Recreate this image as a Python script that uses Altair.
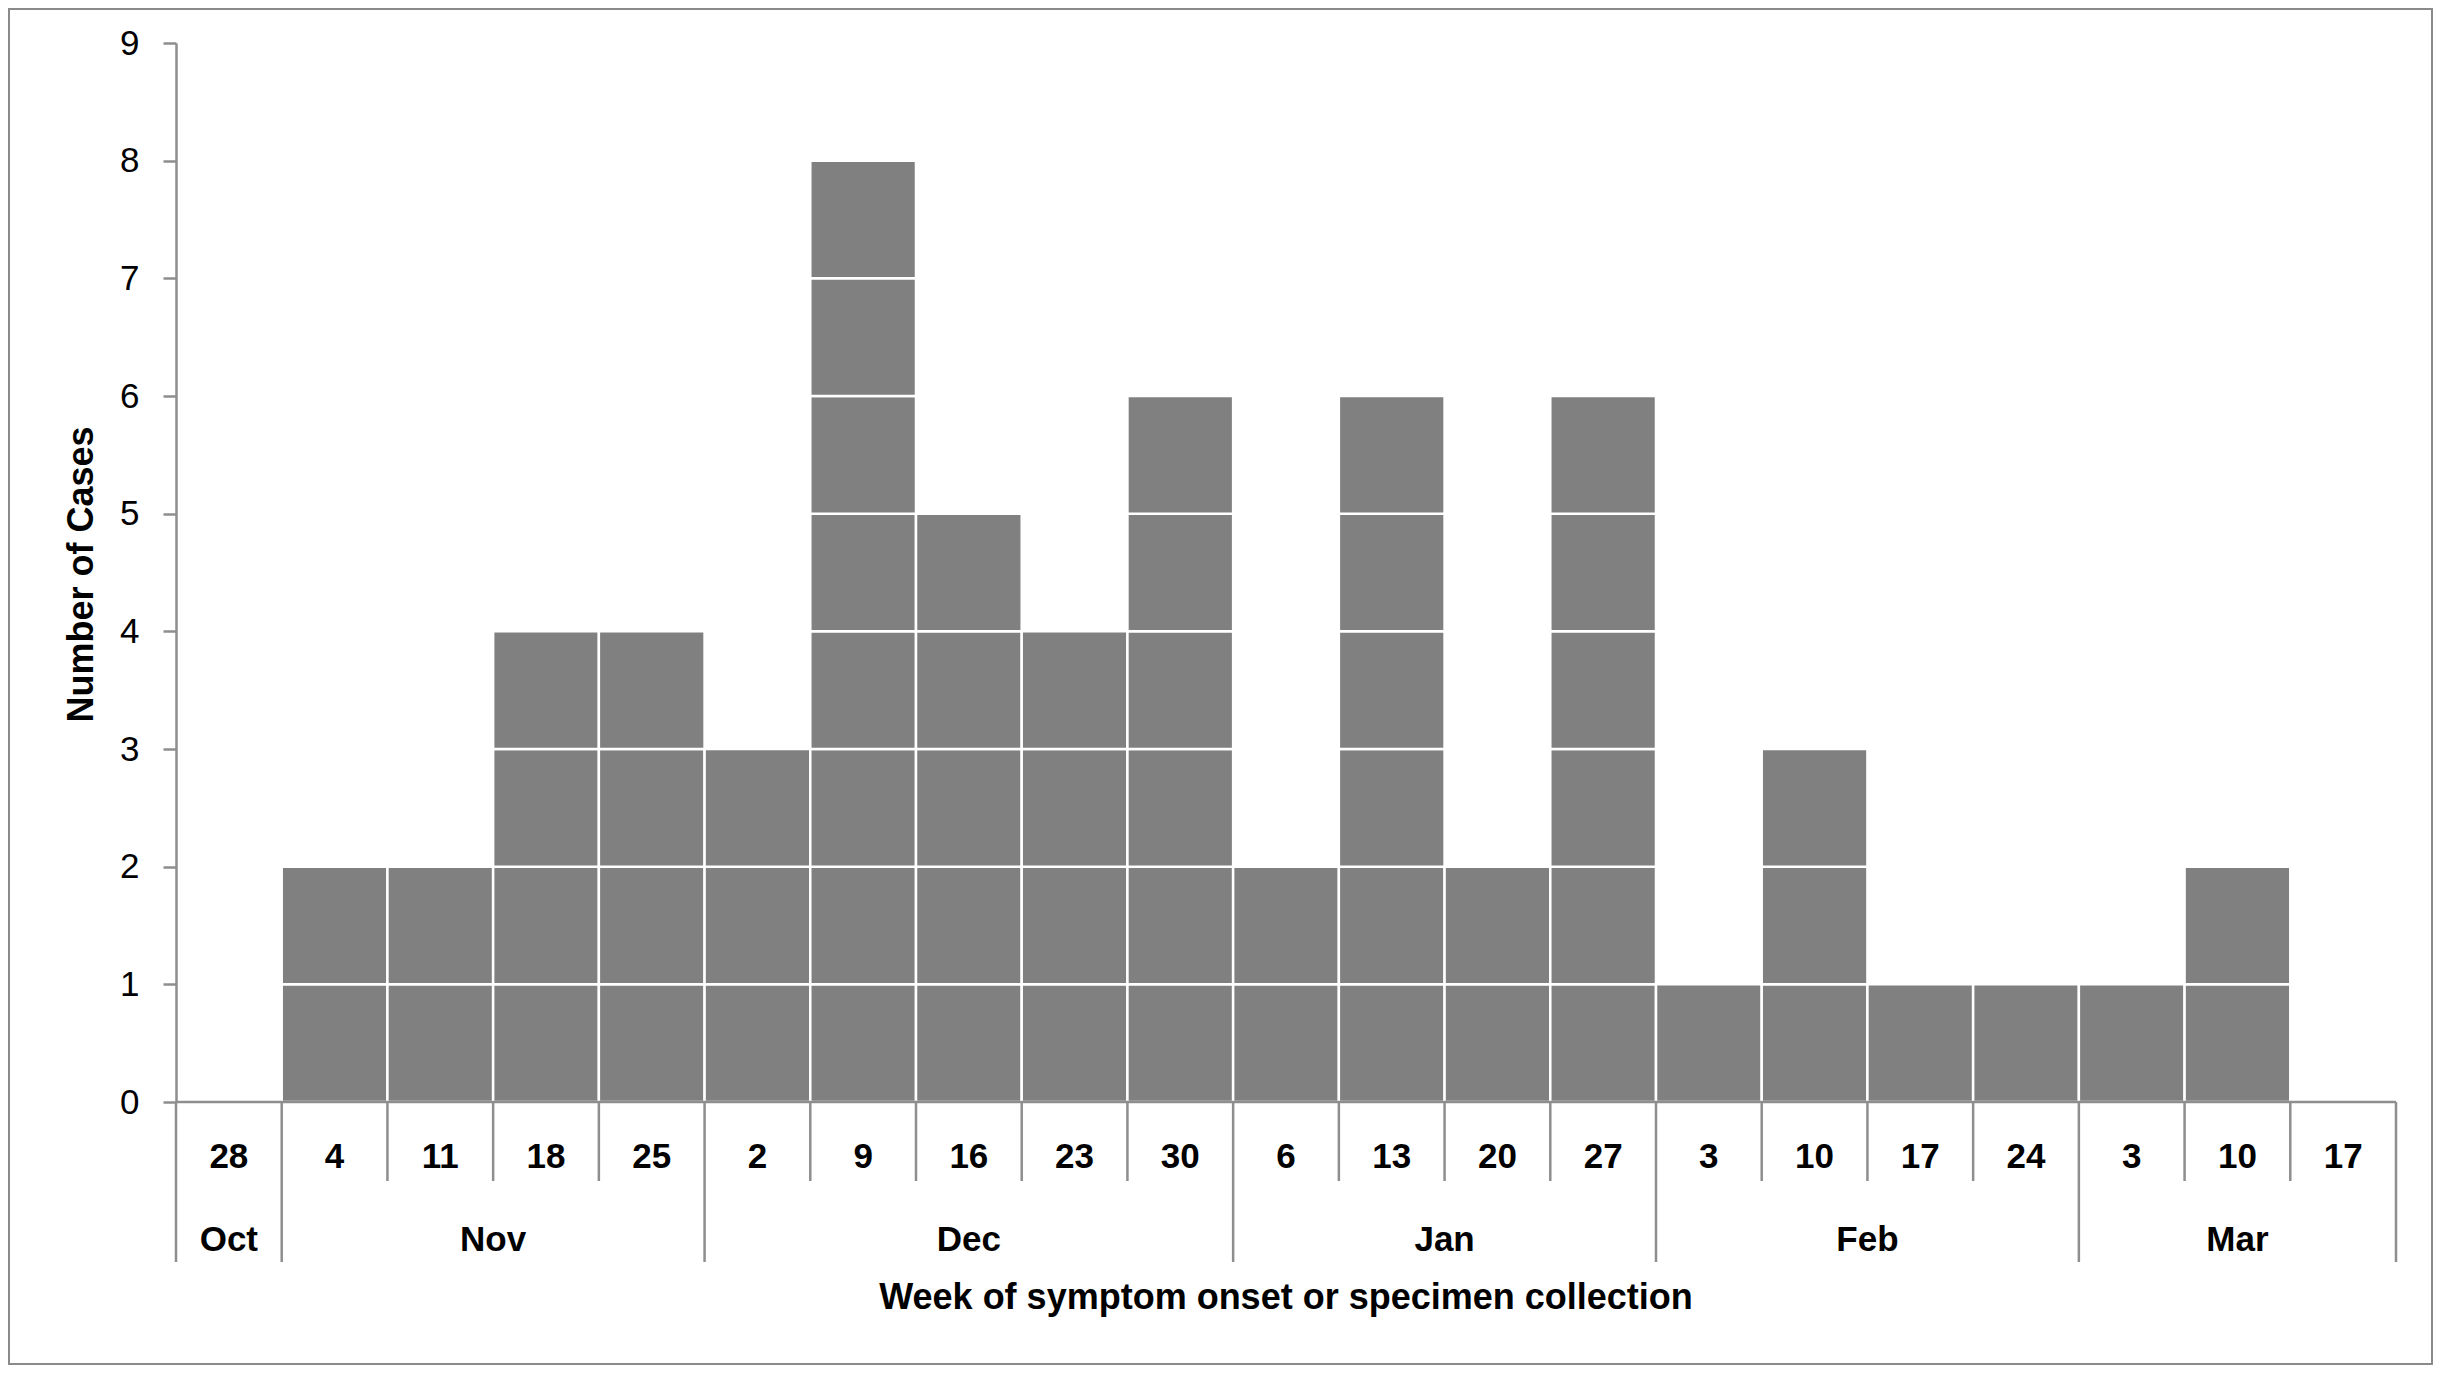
import altair as alt
import pandas as pd

# ---- data ----
week_days = ["28", "4", "11", "18", "25", "2", "9", "16", "23", "30",
             "6", "13", "20", "27", "3", "10", "17", "24", "3", "10", "17"]
week_months = ["Oct", "Nov", "Nov", "Nov", "Nov", "Dec", "Dec", "Dec", "Dec", "Dec",
               "Jan", "Jan", "Jan", "Jan", "Feb", "Feb", "Feb", "Feb", "Mar", "Mar", "Mar"]
case_counts = [0, 2, 2, 4, 4, 3, 8, 5, 4, 6, 2, 6, 2, 6, 1, 3, 1, 1, 1, 2, 0]
y_ticks = list(range(0, 10))

x_title = "Week of symptom onset or specimen collection"
y_title = "Number of Cases"

# ---- layout constants (pixels) ----
W, H = 2220, 1059
FONT = "Liberation Sans, Arial, sans-serif"
GREY = "#8e8e8e"
n_weeks = len(week_days)

# ---- tables built from the arrays ----
cells = pd.DataFrame(
    [{"x0": i, "x1": i + 1, "y0": k, "y1": k + 1}
     for i, c in enumerate(case_counts) for k in range(c)]
)
week_df = pd.DataFrame({"xc": [i + 0.5 for i in range(n_weeks)], "label": week_days})
week_bounds = pd.DataFrame({"xb": list(range(n_weeks + 1))})

month_rows = []
start = 0
for i in range(1, n_weeks + 1):
    if i == n_weeks or week_months[i] != week_months[start]:
        month_rows.append({"name": week_months[start], "start": start, "end": i,
                           "mid": (start + i) / 2})
        start = i
month_df = pd.DataFrame(month_rows)
month_bounds = pd.DataFrame({"xb": sorted(set([r["start"] for r in month_rows] + [n_weeks]))})

xscale = alt.Scale(domain=[0, n_weeks], nice=False, zero=False)
yscale = alt.Scale(domain=[0, 9], nice=False)

bars = alt.Chart(cells).mark_rect(fill="#808080", stroke="white", strokeWidth=2.5).encode(
    x=alt.X("x0:Q", scale=xscale, axis=None),
    x2="x1:Q",
    y=alt.Y("y0:Q", scale=yscale,
            axis=alt.Axis(values=y_ticks, format="d", title=y_title, grid=False,
                          tickSize=13, tickWidth=2.5, tickColor=GREY,
                          domainColor=GREY, domainWidth=2.5,
                          labelFontSize=35, labelFont=FONT, labelColor="black",
                          labelPadding=24,
                          titleFont=FONT, titleFontSize=36, titleFontWeight="bold",
                          titleColor="black", titleX=-95, titleY=531,
                          titleAngle=270, titleAlign="center", titleBaseline="middle")),
    y2="y1:Q",
)

baseline = alt.Chart(pd.DataFrame({"a": [0], "b": [n_weeks], "y": [0]})).mark_rule(
    color=GREY, strokeWidth=2.5).encode(
    x=alt.X("a:Q", scale=xscale), x2="b:Q", y=alt.Y("y:Q", scale=yscale))

week_div = alt.Chart(week_bounds).mark_rule(color=GREY, strokeWidth=2.5).encode(
    x=alt.X("xb:Q", scale=xscale), y=alt.value(H), y2=alt.value(H + 79))

month_div = alt.Chart(month_bounds).mark_rule(color=GREY, strokeWidth=2.5).encode(
    x=alt.X("xb:Q", scale=xscale), y=alt.value(H + 79), y2=alt.value(H + 160))

week_text = alt.Chart(week_df).mark_text(
    font=FONT, fontSize=35, fontWeight="bold", color="black", baseline="middle").encode(
    x=alt.X("xc:Q", scale=xscale), y=alt.value(H + 55), text="label:N")

month_text = alt.Chart(month_df).mark_text(
    font=FONT, fontSize=35, fontWeight="bold", color="black", baseline="middle").encode(
    x=alt.X("mid:Q", scale=xscale), y=alt.value(H + 138), text="name:N")

xtitle = alt.Chart(pd.DataFrame({"t": [x_title]})).mark_text(
    font=FONT, fontSize=36, fontWeight="bold", color="black", baseline="middle").encode(
    x=alt.value(W / 2), y=alt.value(H + 196), text="t:N")

frame = alt.Chart(pd.DataFrame({"f": [0]})).mark_rect(
    fill="transparent", stroke="#8a8a8a", strokeWidth=2).encode(
    x=alt.value(-167), x2=alt.value(W + 36), y=alt.value(-34), y2=alt.value(H + 262))

chart = alt.layer(frame, bars, baseline, week_div, month_div, week_text, month_text, xtitle).properties(
    width=W, height=H,
    autosize=alt.AutoSizeParams(type="none"),
    padding={"left": 168, "top": 35, "right": 37, "bottom": 263},
    background="white",
).configure_view(strokeWidth=0)

chart.save("out.html", embed_options={"renderer": "svg", "actions": False})
